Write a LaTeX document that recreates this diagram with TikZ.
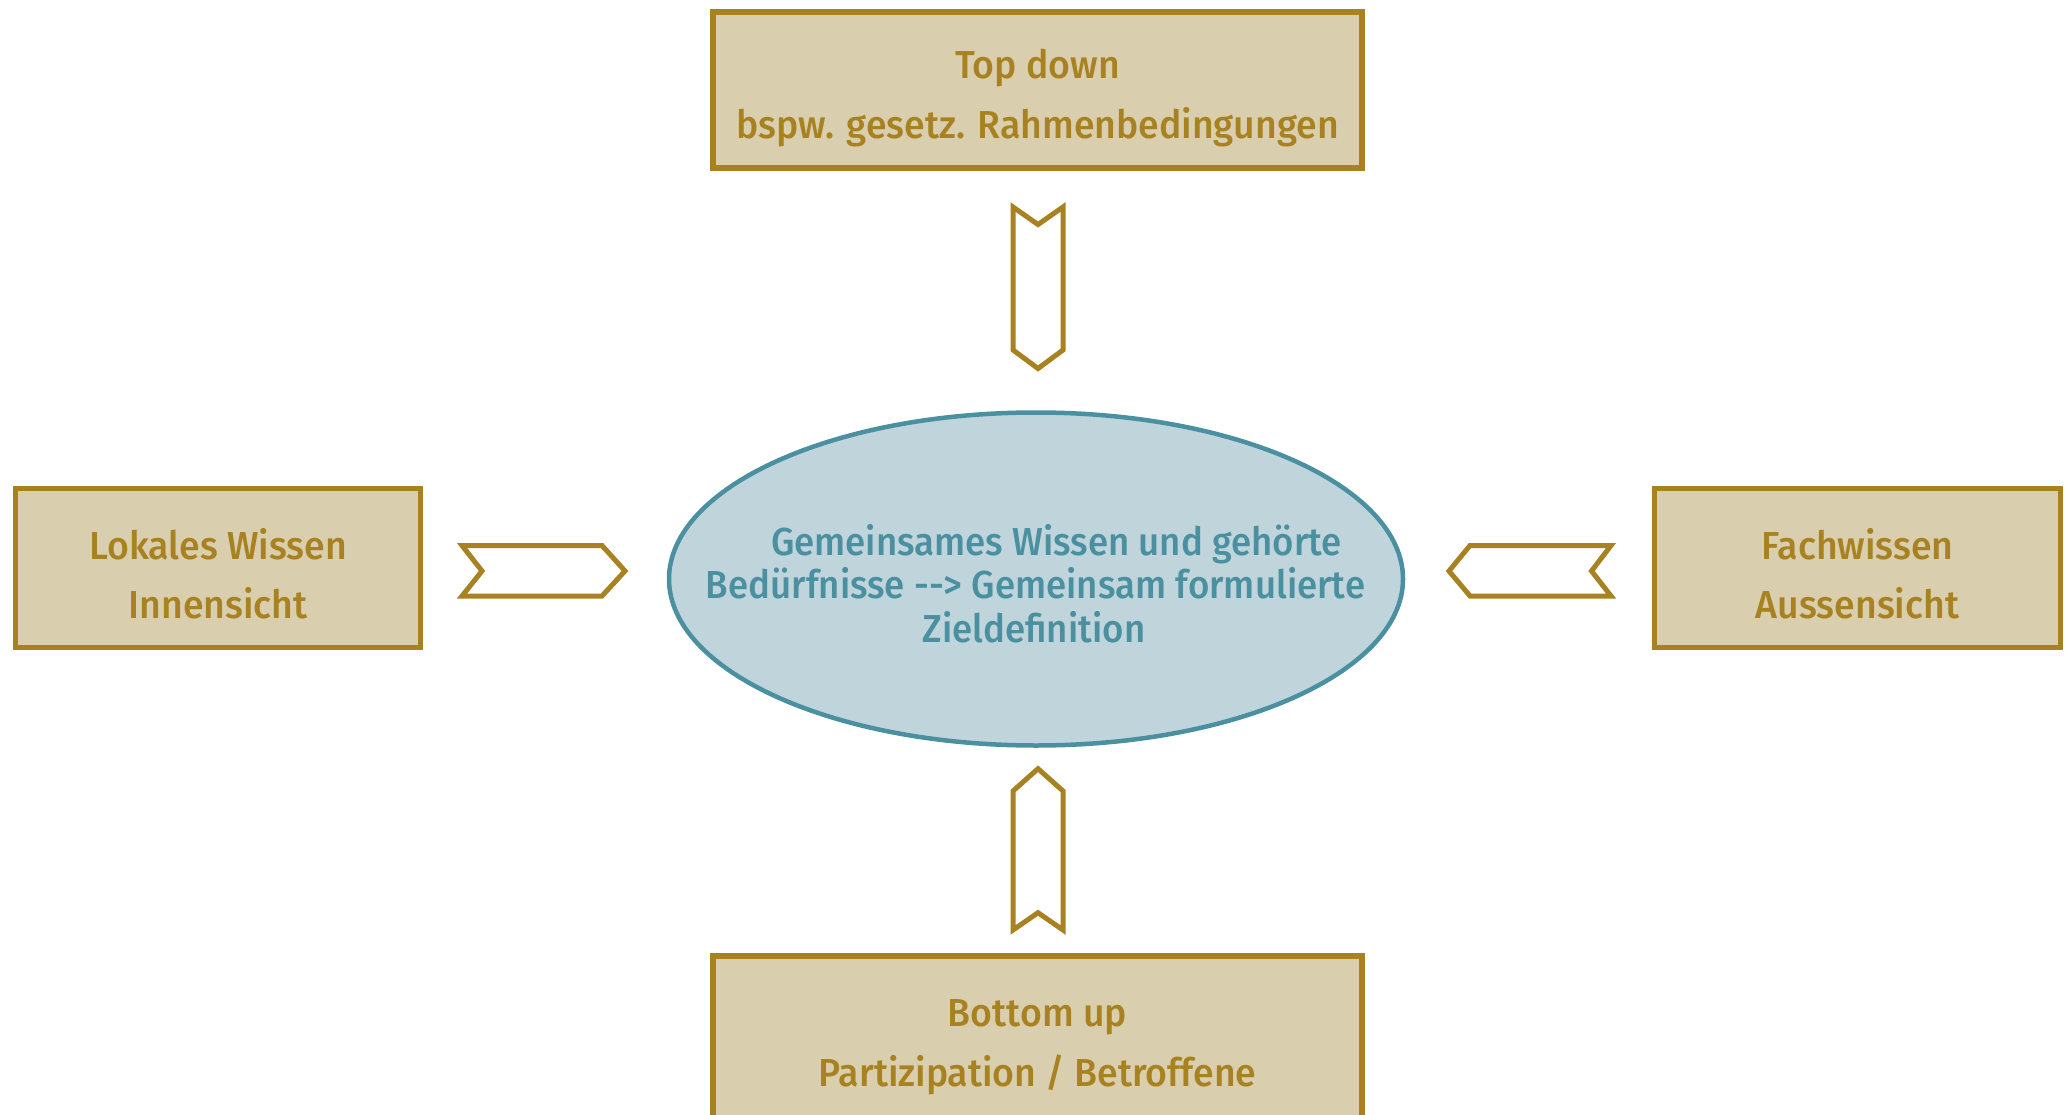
\documentclass[tikz,border=0pt]{standalone}
\usepackage{fontspec}
\setmainfont{Fira Sans}[UprightFont={* Medium}, FakeStretch=0.96]
\newfontfamily\ellfont{Fira Sans}[UprightFont={* Medium}, FakeStretch=0.94]
\usetikzlibrary{shapes.geometric}
\definecolor{gold}{RGB}{168,130,32}
\definecolor{boxfill}{RGB}{217,206,173}
\definecolor{ellfill}{RGB}{191,212,219}
\definecolor{teal}{RGB}{74,144,160}
\tikzset{
  infobox/.style={draw=gold, fill=boxfill, line width=5.5pt, rectangle, inner sep=0pt},
  boxtext/.style={anchor=base, text=gold, font=\fontsize{39}{46}\selectfont, inner sep=0pt},
  elltext/.style={anchor=base, text=teal, font=\ellfont\fontsize{39}{46}\selectfont, inner sep=0pt},
  chevron/.style={draw=gold, fill=white, line width=5pt, line join=miter},
}
\begin{document}
\begin{tikzpicture}[x=1pt,y=-1pt]
\useasboundingbox (0,0) rectangle (2071,1115);
\clip (0,0) rectangle (2071,1115);
% boxes
\node[infobox, minimum width=649pt, minimum height=156pt] (top) at (1037.5,89.8) {};
\node[infobox, minimum width=405pt, minimum height=159pt] (left) at (218,568) {};
\node[infobox, minimum width=406pt, minimum height=159pt] (right) at (1857.5,568) {};
\node[infobox, minimum width=649pt, minimum height=188pt] (bottom) at (1037.5,1050) {};
% centre ellipse
\node[ellipse, draw=teal, fill=ellfill, line width=4.5pt, minimum width=734pt, minimum height=333pt, inner sep=0pt] (goal) at (1036,579) {};
% texts
\node[boxtext] (topA) at (1037.5,79) {Top down};
\node[boxtext] (topB) at (1037.5,139) {bspw. gesetz. Rahmenbedingungen};
\node[boxtext] (leftA) at (218,559) {Lokales Wissen};
\node[boxtext] (leftB) at (218,618) {Innensicht};
\node[boxtext] (rightA) at (1857.5,559) {Fachwissen};
\node[boxtext] (rightB) at (1857.5,618) {Aussensicht};
\node[boxtext] (botA) at (1037.5,1026) {Bottom up};
\node[boxtext] (botB) at (1037.5,1086) {Partizipation / Betroffene};
\node[elltext] (goalA) at (1056.5,555) {Gemeinsames Wissen und gehörte};
\node[elltext] (goalB) at (1035.5,598) {Bedürfnisse -{}-{}> Gemeinsam formulierte};
\node[elltext] (goalC) at (1034,642) {Zieldefinition};
% chevron arrows
\draw[chevron] (1013,207) coordinate (ta1) -- (1038,224.5) -- (1063,207) -- (1063,350) -- (1038,368.5) -- (1013,350) -- cycle;
\draw[chevron] (1038,768.7) coordinate (ba1) -- (1063,791) -- (1063,930) -- (1038,912.7) -- (1013,930) -- (1013,791) -- cycle;
\draw[chevron] (462,545.5) coordinate (la1) -- (602,545.5) -- (625,571) -- (602,596) -- (462,596) -- (482,571) -- cycle;
\draw[chevron] (1449,571) coordinate (ra1) -- (1470,545.5) -- (1611,545.5) -- (1591.5,571) -- (1611,596) -- (1470,596) -- cycle;
\end{tikzpicture}
\end{document}
